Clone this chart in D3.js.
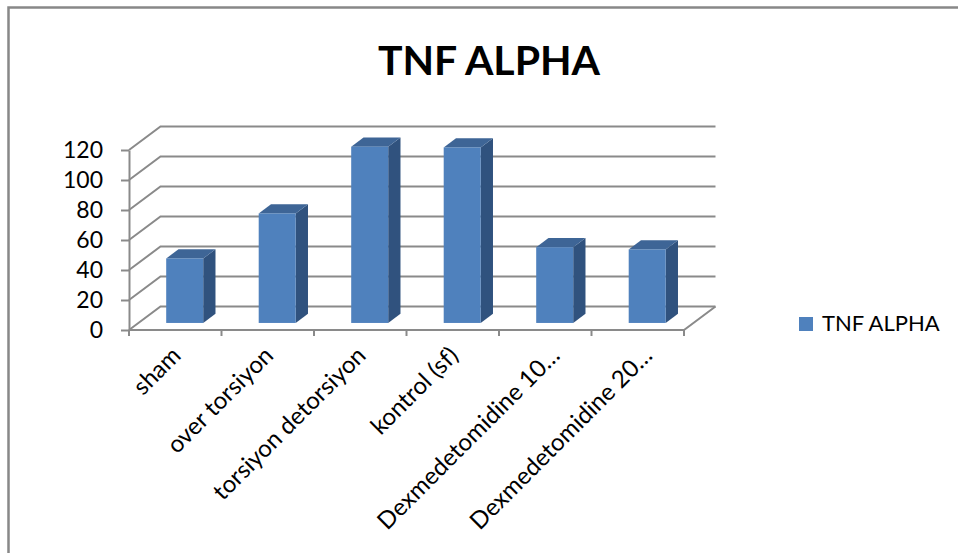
<!DOCTYPE html>
<html>
<head>
<meta charset="utf-8">
<script src="https://cdn.jsdelivr.net/npm/d3@7"></script>
<style>
  html, body { margin: 0; padding: 0; background: #fff; }
  svg { display: block; }
  text { font-family: Lato, "Open Sans", "Liberation Sans", sans-serif; fill: #000; }
</style>
</head>
<body>
<svg id="chart" width="958" height="553"></svg>
<script>
// TNF ALPHA levels per group
const categories = ["sham", "over torsiyon", "torsiyon detorsiyon", "kontrol (sf)", "Dexmedetomidine 10…", "Dexmedetomidine 20…"];
const values = [43, 73, 117.5, 117, 50.5, 49];
const yTicks = [0, 20, 40, 60, 80, 100, 120];
const seriesName = "TNF ALPHA";
const chartTitle = "TNF ALPHA";

const svg = d3.select("#chart");
const W = 958, H = 553;

// oblique depth offset of the 3D box (back wall relative to front plane)
const DX = 31.5, DY = -23.5;
// bar depth span (fraction of box depth) and width (fraction of band)
const T0 = 0.3, T1 = 0.69, BAR_W = 0.4;

const colors = {
  front: "#4F81BD",
  top: "#3E6596",
  side: "#30527E",
  grid: "#8A8A8A",
  frame: "#888888"
};

const x = d3.scaleBand().domain(categories).range([129, 684]).paddingInner(0).paddingOuter(0);
const y = d3.scaleLinear().domain([0, 120]).range([330, 150]);

// outer chart frame
svg.append("rect")
  .attr("x", 8.5).attr("y", 7.5)
  .attr("width", W + 40).attr("height", H + 40)
  .attr("fill", "none")
  .attr("stroke", colors.frame)
  .attr("stroke-width", 2.5);

// title
svg.append("text")
  .attr("x", 489).attr("y", 75)
  .attr("text-anchor", "middle")
  .style("font-size", "41px")
  .style("font-weight", "bold")
  .text(chartTitle);

const x0 = x.range()[0], x1 = x.range()[1];
const grid = svg.append("g")
  .attr("stroke", colors.grid)
  .attr("stroke-width", 2)
  .attr("fill", "none");

// side wall diagonals and back wall gridlines
yTicks.forEach(t => {
  const yy = y(t);
  grid.append("path")
    .attr("d", `M${x0},${yy}L${x0 + DX},${yy + DY}L${x1 + DX},${yy + DY}`);
});

// floor front edge and right edge
grid.append("path")
  .attr("d", `M${x0},${y(0)}L${x1},${y(0)}L${x1 + DX},${y(0) + DY}`);

// category boundary ticks
const bounds = categories.map(c => x(c)).concat([x1]);
grid.selectAll("line.xt")
  .data(bounds)
  .join("line")
  .attr("class", "xt")
  .attr("x1", d => d).attr("x2", d => d)
  .attr("y1", y(0)).attr("y2", y(0) + 6);

// value axis
const yAxis = d3.axisLeft(y)
  .tickValues(yTicks)
  .tickSize(8)
  .tickSizeOuter(0)
  .tickPadding(18);

const ya = svg.append("g")
  .attr("transform", `translate(${x0},0)`)
  .call(yAxis);
ya.select(".domain").attr("stroke", colors.grid).attr("stroke-width", 2);
ya.selectAll(".tick line").attr("stroke", colors.grid).attr("stroke-width", 2);
ya.selectAll(".tick text")
  .style("font-family", "Lato, 'Open Sans', sans-serif")
  .style("font-size", "23px")
  .attr("fill", "#000");

// bars as oblique 3D columns
const data = categories.map((c, i) => ({ cat: c, v: values[i] }));
const bw = x.bandwidth();
const ddx = DX * (T1 - T0), ddy = DY * (T1 - T0);

const bars = svg.append("g").selectAll("g.bar")
  .data(data)
  .join("g")
  .attr("class", "bar");

bars.each(function (d) {
  const g = d3.select(this);
  const cx = x(d.cat) + bw / 2;
  const w = bw * BAR_W;
  const left = cx - w / 2 + DX * T0;
  const right = left + w;
  const base = y(0) + DY * T0;
  const top = y(d.v) + DY * T0;

  g.append("path")
    .attr("d", `M${right},${top}L${right + ddx},${top + ddy}L${right + ddx},${base + ddy}L${right},${base}Z`)
    .attr("fill", colors.side);
  g.append("path")
    .attr("d", `M${left},${top}L${right},${top}L${right + ddx},${top + ddy}L${left + ddx},${top + ddy}Z`)
    .attr("fill", colors.top);
  g.append("rect")
    .attr("x", left).attr("y", top)
    .attr("width", w).attr("height", base - top)
    .attr("fill", colors.front);
});

// rotated category labels (trimmed ones sit a little further right)
svg.append("g").selectAll("text.xl")
  .data(categories)
  .join("text")
  .attr("class", "xl")
  .attr("text-anchor", "end")
  .style("font-size", "24px")
  .attr("transform", d => {
    const shift = d.endsWith("…") ? 9 : 0;
    return `translate(${x(d) + bw / 2 + 7 + shift},${y(0) + 27}) rotate(-45)`;
  })
  .text(d => d);

// legend
const lg = svg.append("g");
lg.append("rect")
  .attr("x", 799).attr("y", 317)
  .attr("width", 14).attr("height", 14)
  .attr("fill", colors.front);
lg.append("text")
  .attr("x", 822).attr("y", 331)
  .style("font-size", "22px")
  .text(seriesName);
</script>
</body>
</html>
